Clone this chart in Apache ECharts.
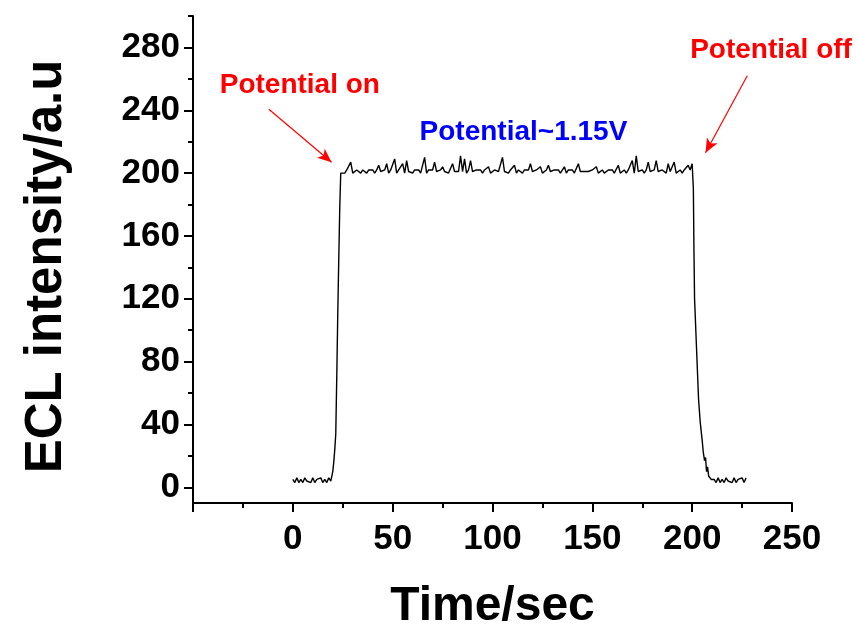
<!DOCTYPE html>
<html>
<head>
<meta charset="utf-8">
<script src="https://cdn.jsdelivr.net/npm/echarts@6/dist/echarts.min.js"></script>
<style>
html,body{margin:0;padding:0;background:#fff;}
#chart{width:857px;height:628px;}
</style>
</head>
<body>
<div id="chart"></div>
<script>
// ---- data ----
// baseline before potential on: t = 0 .. 19 (step 1 s)
const baseStartT0 = 0;
const baseStartVals = [5, 3, 6, 3, 5, 3, 6, 4, 5, 3, 6, 3, 5, 4, 6, 3, 5, 3, 6, 4];
// rising edge [t, value]
const risePts = [[19.5, 7], [20, 10], [20.5, 16], [21, 24], [21.5, 34], [22, 70], [22.5, 110], [23, 145], [23.5, 178], [24, 200]];
// plateau: t = 25 .. 200 (step 1 s)
const plateauT0 = 25;
const plateauVals = [
  201, 200, 202, 201, 207, 200, 201, 202, 201, 200,
  202, 201, 200, 202, 201, 202, 200, 202, 205, 201,
  200, 202, 206, 200, 202, 201, 209, 200, 202, 201,
  206, 200, 208, 201, 201, 200, 202, 201, 202, 200,
  201, 210, 200, 202, 201, 202, 207, 201, 200, 202,
  204, 201, 202, 200, 201, 206, 201, 200, 201, 211,
  201, 209, 200, 202, 208, 201, 200, 202, 201, 202,
  200, 202, 201, 204, 200, 201, 202, 202, 201, 200,
  210, 201, 202, 200, 202, 201, 205, 200, 202, 201,
  200, 202, 201, 202, 206, 201, 200, 202, 201, 204,
  200, 201, 202, 205, 201, 200, 202, 201, 202, 200,
  201, 204, 200, 202, 201, 202, 200, 201, 206, 201,
  200, 201, 202, 201, 200, 202, 201, 204, 200, 201,
  202, 200, 201, 202, 201, 202, 200, 201, 205, 200,
  201, 202, 200, 202, 201, 208, 200, 211, 201, 201,
  202, 200, 202, 207, 201, 200, 202, 208, 201, 200,
  202, 201, 200, 206, 201, 202, 207, 200, 201, 202,
  200, 202, 201, 205, 202, 206
];
// falling edge [t, value]
const fallPts = [[200.6, 190], [200.9, 150], [201.2, 120], [202.2, 88], [203.2, 56], [204, 42], [205, 30], [205.6, 22], [206.2, 17], [206.7, 19], [207.2, 10], [207.7, 13], [208.3, 7], [209, 8], [209.6, 5], [210.2, 4]];
// baseline after potential off: t = 211 .. 227 (step 1 s)
const baseEndT0 = 211;
const baseEndVals = [5, 3, 6, 3, 5, 3, 6, 4, 5, 3, 6, 3, 5, 4, 6, 3, 6];

// axis ticks
const xLabelVals = [0, 50, 100, 150, 200, 250];
const xMajorTicks = [-50, 0, 50, 100, 150, 200, 250];
const xMinorTicks = [-25, 25, 75, 125, 175, 225];
const yLabelVals = [0, 40, 80, 120, 160, 200, 240, 280];
const yMinorTicks = [20, 60, 100, 140, 180, 220, 260, 300];

// annotations
const annotations = [
  {text: 'Potential on', coord: [3.5, 256], color: '#ff0000'},
  {text: 'Potential off', coord: [239.5, 278], color: '#ff0000'},
  {text: 'Potential~1.15V', coord: [115.5, 226], color: '#0000ff'}
];
const arrows = [
  {from: [-12, 240.6], to: [19.4, 206.9]},
  {from: [227.6, 262], to: [206.7, 213]}
];

// ---- build series data ----
const seriesData = [];
baseStartVals.forEach((v, i) => seriesData.push([baseStartT0 + i, v]));
risePts.forEach(p => seriesData.push(p));
plateauVals.forEach((v, i) => seriesData.push([plateauT0 + i, v]));
fallPts.forEach(p => seriesData.push(p));
baseEndVals.forEach((v, i) => seriesData.push([baseEndT0 + i, v]));

const FONT = '"Liberation Sans", Arial, sans-serif';
const chart = echarts.init(document.getElementById('chart'), null, {renderer: 'canvas'});

const axisLineStyle = {color: '#000', width: 2};

chart.setOption({
  animation: false,
  backgroundColor: '#fff',
  grid: {left: 193, right: 65, top: 16, bottom: 125, containLabel: false, outerBoundsMode: 'none'},
  xAxis: [
    {
      type: 'value', min: -50, max: 250, interval: 50,
      axisLine: {show: true, lineStyle: axisLineStyle, onZero: false},
      axisTick: {show: true, length: 9, lineStyle: {color: '#000', width: 2}, customValues: xMajorTicks},
      axisLabel: {show: true, customValues: xLabelVals, color: '#000', fontFamily: FONT, fontWeight: 'bold', fontSize: 35, margin: 19},
      splitLine: {show: false},
      name: 'Time/sec', nameLocation: 'middle', nameGap: 80,
      nameTextStyle: {color: '#000', fontFamily: FONT, fontWeight: 'bold', fontSize: 48}
    },
    {
      type: 'value', min: -50, max: 250, position: 'bottom',
      axisLine: {show: false, onZero: false},
      axisTick: {show: true, length: 5, lineStyle: {color: '#000', width: 2}, customValues: xMinorTicks},
      axisLabel: {show: false, customValues: xMinorTicks},
      splitLine: {show: false}
    }
  ],
  yAxis: [
    {
      type: 'value', min: -10, max: 300,
      axisLine: {show: true, lineStyle: axisLineStyle, onZero: false},
      axisTick: {show: true, length: 9, lineStyle: {color: '#000', width: 2}, customValues: yLabelVals},
      axisLabel: {show: true, customValues: yLabelVals, color: '#000', fontFamily: FONT, fontWeight: 'bold', fontSize: 35, margin: 13},
      splitLine: {show: false},
      name: 'ECL intensity/a.u', nameLocation: 'middle', nameGap: 121, nameRotate: 90,
      nameTextStyle: {color: '#000', fontFamily: FONT, fontWeight: 'bold', fontSize: 51, padding: [0, 14, 0, 0]}
    },
    {
      type: 'value', min: -10, max: 300, position: 'left',
      axisLine: {show: false, onZero: false},
      axisTick: {show: true, length: 5, lineStyle: {color: '#000', width: 2}, customValues: yMinorTicks},
      axisLabel: {show: false, customValues: yMinorTicks},
      splitLine: {show: false}
    }
  ],
  series: [
    {
      type: 'line',
      data: seriesData,
      showSymbol: false,
      symbol: 'none',
      lineStyle: {color: '#000', width: 1.4},
      markLine: {
        silent: true,
        symbol: ['none', 'arrow'],
        symbolSize: [9, 14],
        label: {show: false},
        lineStyle: {color: '#ff0000', width: 1.2, type: 'solid'},
        data: arrows.map(a => [{coord: a.from}, {coord: a.to}])
      },
      markPoint: {
        silent: true,
        symbol: 'circle', symbolSize: 0,
        data: annotations.map(a => ({
          coord: a.coord,
          label: {show: true, position: 'inside', formatter: a.text, color: a.color, fontFamily: FONT, fontWeight: 'bold', fontSize: 28}
        }))
      }
    }
  ]
});
</script>
</body>
</html>
